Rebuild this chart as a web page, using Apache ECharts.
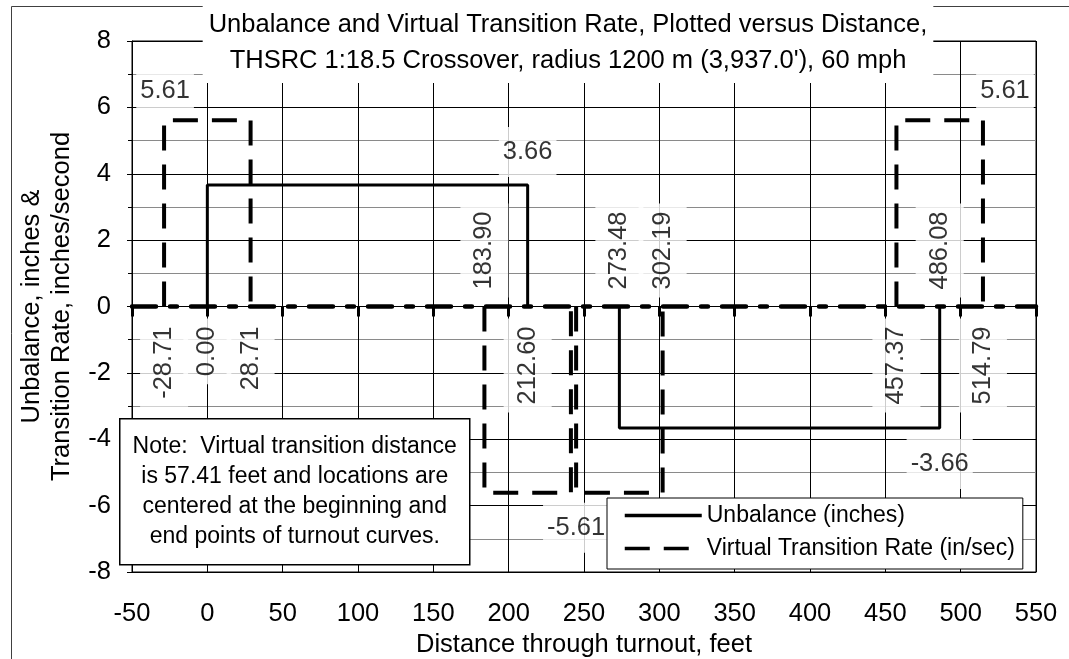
<!DOCTYPE html>
<html>
<head>
<meta charset="utf-8">
<script src="https://cdn.jsdelivr.net/npm/echarts@6/dist/echarts.min.js"></script>
<style>
    html, body { margin: 0; padding: 0; background: #fff; }
    #chart { width: 1069px; height: 659px; }
</style>
</head>
<body>
<div id="chart"></div>
<script>
// distances in feet, values in inches and inches/second
const unbalanceX = [0.00, 0.00, 212.60, 212.60, null, 273.48, 273.48, 486.08, 486.08];
const unbalanceY = [0, 3.66, 3.66, 0, null, 0, -3.66, -3.66, 0];

const rateX = [-28.71, -28.71, 28.71, 28.71, null,
    183.90, 183.90, 241.31, 241.31, null,
    244.77, 244.77, 302.19, 302.19, null,
    457.37, 457.37, 514.79, 514.79];
const rateY = [0, 5.61, 5.61, 0, null,
    0, -5.61, -5.61, 0, null,
    0, -5.61, -5.61, 0, null,
    0, 5.61, 5.61, 0];

// transition locations labelled along the zero line
const markerX = [-28.71, 0.00, 28.71, 183.90, 212.60, 273.48, 302.19, 457.37, 486.08, 514.79];
const markerAbove = [false, false, false, true, false, true, true, false, true, false];

// value labels
const valueLabelX = [-28.71, 212.60, 514.79, 244.77, 486.08];
const valueLabelY = [5.61, 3.66, 5.61, -5.61, -3.66];

const xMin = -50, xMax = 550, xStep = 50;
const yMin = -8, yMax = 8, yStep = 2;

const titleLines = [
    "Unbalance and Virtual Transition Rate, Plotted versus Distance,",
    "THSRC 1:18.5 Crossover, radius 1200 m (3,937.0'), 60 mph"
];
const noteLines = [
    "Note:  Virtual transition distance",
    "is 57.41 feet and locations are",
    "centered at the beginning and",
    "end points of turnout curves."
];

const FONT = '"Liberation Sans", Arial, sans-serif';
const valueLabelOffsets = [[1, -29], [0, -33], [22, -29], [0, 35], [0, 36]];

const pairs = (xs, ys) => xs.map((x, i) => (x === null ? ["-", "-"] : [x, ys[i]]));

const chart = echarts.init(document.getElementById("chart"));

chart.setOption({
    animation: false,
    textStyle: { fontFamily: FONT, color: "#000" },
    title: {
        text: titleLines.join("\n"),
        left: 562,
        top: 5,
        textAlign: "center",
        backgroundColor: "#fff",
        padding: [2, 6, 4, 6],
        textStyle: { fontFamily: FONT, fontSize: 25.5, lineHeight: 36, fontWeight: "normal", color: "#000" }
    },
    grid: {
        left: 132, top: 41, right: 33, bottom: 87,
        containLabel: false,
        outerBoundsMode: "none",
        show: true, borderColor: "#000", borderWidth: 1
    },
    legend: {
        data: ["Unbalance (inches)", "Virtual Transition Rate (in/sec)"],
        orient: "vertical",
        left: 607,
        top: 498,
        padding: [6, 8, 9, 16],
        itemWidth: 77,
        itemHeight: 20,
        itemGap: 10,
        backgroundColor: "#fff",
        borderColor: "#000",
        borderWidth: 1,
        z: 10,
        itemStyle: { opacity: 0 },
        lineStyle: { width: 3.5 },
        textStyle: { fontFamily: FONT, fontSize: 23, color: "#000" }
    },
    xAxis: [
        {
            type: "value",
            min: xMin, max: xMax, interval: xStep,
            position: "bottom",
            name: "Distance through turnout, feet",
            nameLocation: "middle",
            nameGap: 56,
            nameTextStyle: { fontFamily: FONT, fontSize: 25.5, color: "#000" },
            axisLine: { show: true, onZero: false, lineStyle: { color: "#000", width: 1 } },
            axisTick: { show: false },
            axisLabel: { fontFamily: FONT, fontSize: 25.5, color: "#000", margin: 29 },
            splitLine: { show: true, lineStyle: { color: "#000", width: 1 } }
        },
        {
            // zero line with its tick marks
            type: "value",
            min: xMin, max: xMax, interval: xStep,
            position: "top",
            axisLine: { show: true, onZero: true, lineStyle: { color: "#000", width: 4.5, type: [24, 14, 7, 14] } },
            axisTick: { show: true, inside: true, length: 10, lineStyle: { color: "#000", width: 3 } },
            axisLabel: { show: false },
            splitLine: { show: false }
        }
    ],
    yAxis: {
        type: "value",
        min: yMin, max: yMax, interval: yStep,
        name: "Unbalance, inches &\nTransition Rate, inches/second",
        nameLocation: "middle",
        nameRotate: 90,
        nameGap: 54,
        nameTextStyle: { fontFamily: FONT, fontSize: 25.5, lineHeight: 30, color: "#000" },
        axisLine: { show: true, onZero: false, lineStyle: { color: "#000", width: 1 } },
        axisTick: { show: true, length: 5, lineStyle: { color: "#000" } },
        minorTick: { show: true, splitNumber: 2, length: 4, lineStyle: { color: "#000" } },
        axisLabel: { fontFamily: FONT, fontSize: 25.5, color: "#000", margin: 21 },
        splitLine: { show: true, lineStyle: { color: "#000", width: 1 } },
        minorSplitLine: { show: true, lineStyle: { color: "#8a8a8a", width: 1 } }
    },
    series: [
        {
            name: "Unbalance (inches)",
            type: "line",
            data: pairs(unbalanceX, unbalanceY),
            symbol: "none",
            z: 3,
            itemStyle: { color: "#000" },
            lineStyle: { color: "#000", width: 3 }
        },
        {
            name: "Virtual Transition Rate (in/sec)",
            type: "line",
            data: pairs(rateX, rateY),
            symbol: "none",
            z: 3,
            itemStyle: { color: "#000" },
            lineStyle: { color: "#000", width: 4, type: [25, 14] }
        },
        {
            name: "locations",
            type: "scatter",
            symbolSize: 0,
            silent: true,
            z: 4,
            // label offset is in the rotated frame: +x moves the text up the page
            data: markerX.map((x, i) => ({
                value: [x, 0],
                label: {
                    align: markerAbove[i] ? "left" : "right",
                    offset: markerAbove[i] ? [9, 0] : [-12, 0]
                }
            })),
            label: {
                show: true,
                position: "inside",
                rotate: 90,
                verticalAlign: "middle",
                formatter: p => p.value[0].toFixed(2),
                fontFamily: FONT,
                fontSize: 25.5,
                color: "#000",
                backgroundColor: "#fff",
                padding: [11, 8, 11, 8]
            }
        },
        {
            name: "values",
            type: "scatter",
            symbolSize: 0,
            silent: true,
            z: 4,
            data: valueLabelX.map((x, i) => ({
                value: [x, valueLabelY[i]],
                label: { offset: valueLabelOffsets[i] }
            })),
            label: {
                show: true,
                position: "inside",
                align: "center",
                verticalAlign: "middle",
                formatter: p => p.value[1].toFixed(2),
                fontFamily: FONT,
                fontSize: 25.5,
                color: "#000",
                backgroundColor: "#fff",
                padding: [12, 4, 12, 4]
            }
        }
    ],
    graphic: [
        {
            type: "rect",
            left: 9, top: 4, z: 0,
            shape: { x: 0.5, y: 0.5, width: 1100, height: 700 },
            style: { fill: "none", stroke: "#404040", lineWidth: 1 }
        },
        {
            type: "group",
            left: 119, top: 418,
            children: [
                {
                    type: "rect",
                    z: 100,
                    shape: { x: 0, y: 0, width: 350, height: 146 },
                    style: { fill: "#fff", stroke: "#000", lineWidth: 1.5 }
                },
                {
                    type: "text",
                    z: 101,
                    style: {
                        x: 175, y: 73,
                        text: noteLines.join("\n"),
                        font: "23px " + FONT,
                        fill: "#000",
                        align: "center",
                        verticalAlign: "middle",
                        lineHeight: 30
                    }
                }
            ]
        }
    ]
});
</script>
</body>
</html>
